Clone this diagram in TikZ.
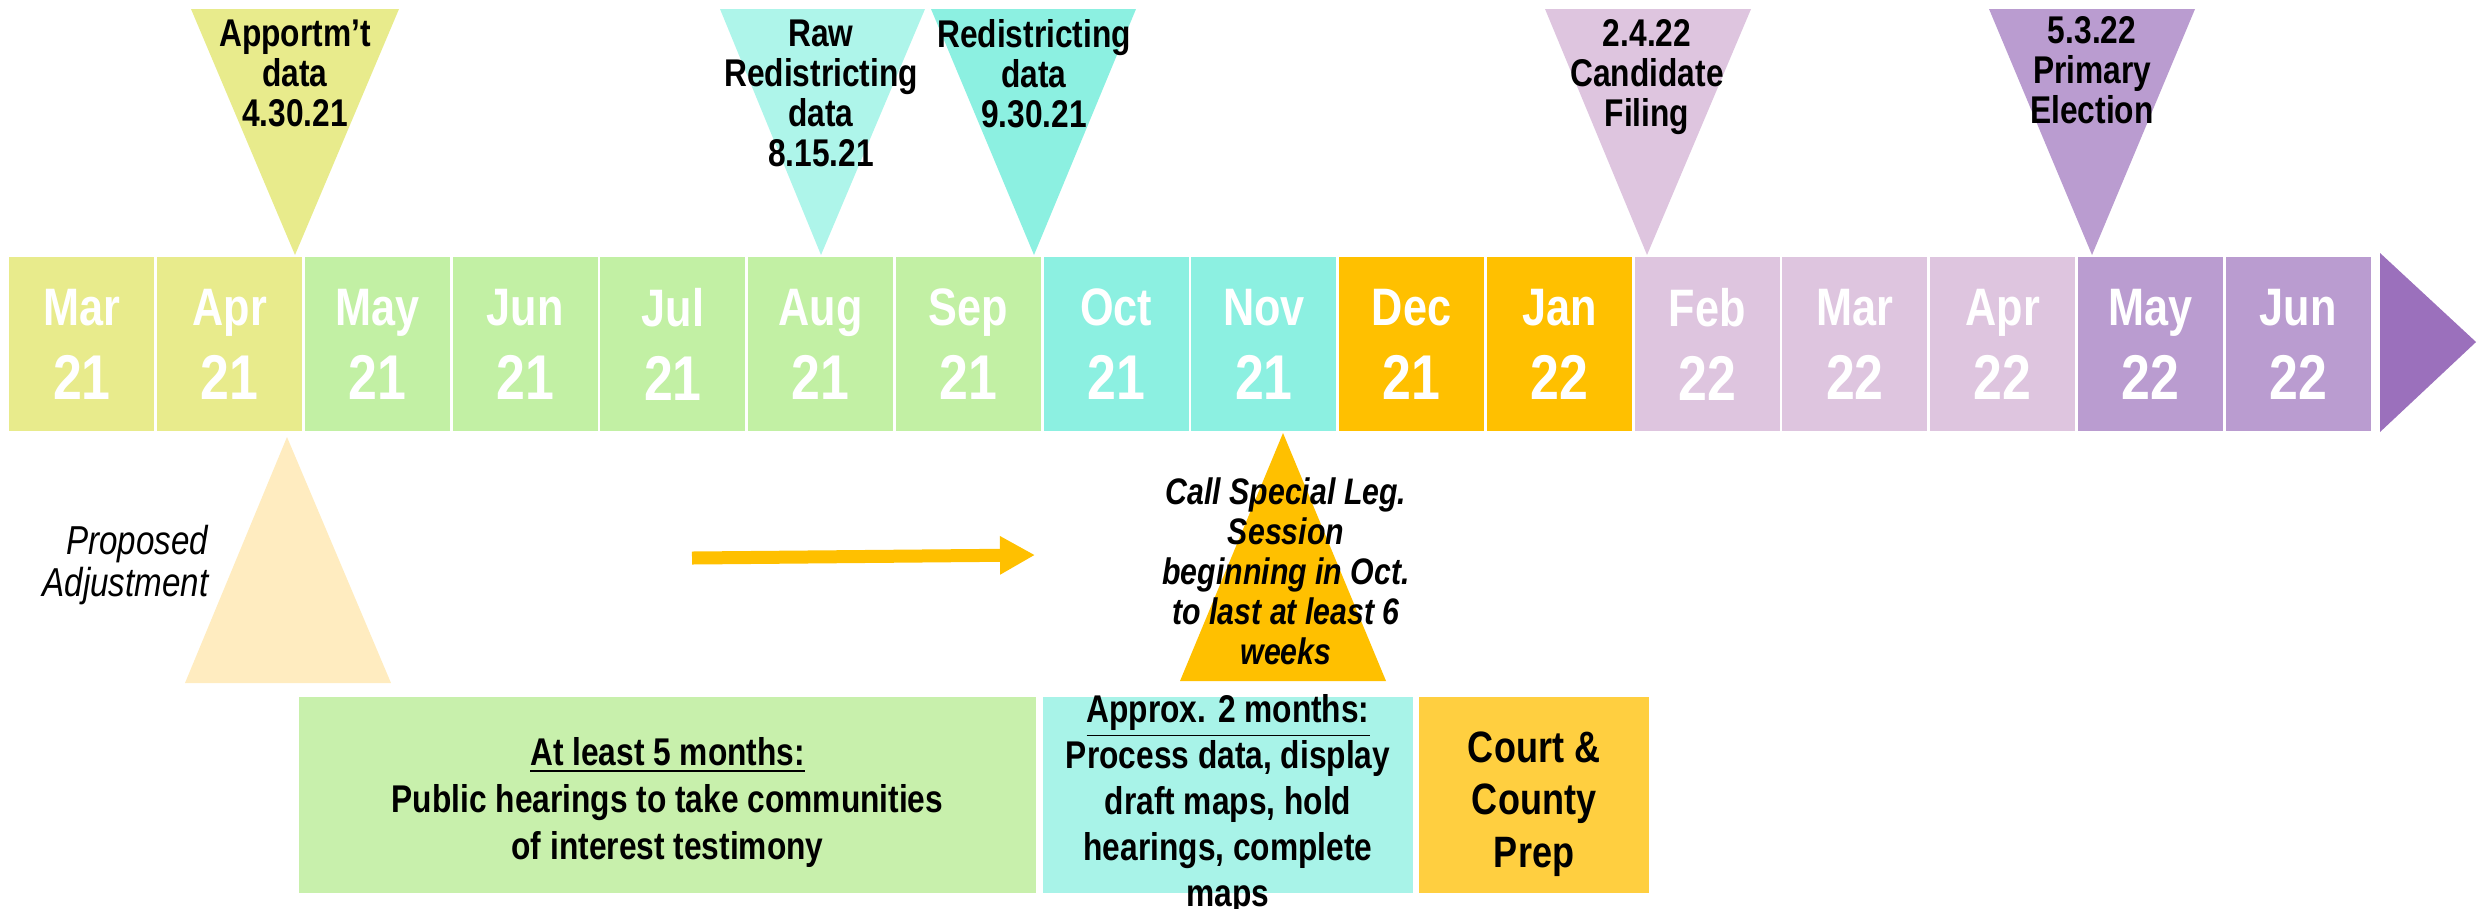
\documentclass[tikz,border=0pt]{standalone}
\usepackage{fontspec}
\setmainfont{Liberation Sans}[FakeStretch=0.82]
\usepackage{tikz}
\usepackage{color}
\usetikzlibrary{arrows.meta}
\definecolor{yellowA}{RGB}{232,235,140}
\definecolor{greenA}{RGB}{194,240,164}
\definecolor{greenB}{RGB}{200,240,172}
\definecolor{aquaA}{RGB}{140,240,225}
\definecolor{aquaB}{RGB}{174,245,234}
\definecolor{aquaC}{RGB}{168,243,232}
\definecolor{amber}{RGB}{255,192,0}
\definecolor{gold}{RGB}{255,207,64}
\definecolor{peach}{RGB}{255,236,192}
\definecolor{lilacA}{RGB}{222,197,223}
\definecolor{purpleA}{RGB}{186,156,208}
\definecolor{purpleB}{RGB}{155,112,188}

\begin{document}
\begin{tikzpicture}[month/.style = {fill, minimum width=1.45cm, minimum height=1.74cm, inner sep=0pt, align=center, text=white, font=\bfseries\fontsize{18}{21}\selectfont}, flag/.style = {anchor=north, align=center, inner sep=0pt, font=\bfseries\fontsize{11}{11.4}\selectfont}, period/.style = {minimum height=1.96cm, inner sep=0pt}, note/.style = {anchor=north, align=center, inner sep=0pt, font=\bfseries\fontsize{11}{13.4}\selectfont}]
\useasboundingbox (0,0) rectangle (24.78,9.08);
\fill[yellowA] (1.91,8.99) -- (3.99,8.99) -- (2.95,6.53) -- cycle; \fill[aquaB] (7.20,8.99) -- (9.25,8.99) -- (8.21,6.53) -- cycle; \fill[aquaA] (9.31,8.99) -- (11.36,8.99) -- (10.34,6.53) -- cycle;
\fill[lilacA] (15.45,8.99) -- (17.51,8.99) -- (16.47,6.53) -- cycle; \fill[purpleA] (19.89,8.99) -- (21.95,8.99) -- (20.92,6.53) -- cycle;
\fill[peach] (1.85,2.25) -- (3.91,2.25) -- (2.87,4.71) -- cycle; \fill[amber] (11.80,2.27) -- (13.86,2.27) -- (12.83,4.75) -- cycle;
\node[flag] (17) at (2.95,8.89) {Apportm't\\data\\4.30.21}; \node[flag] (18) at (8.21,8.89) {Raw\\Redistricting\\data\\8.15.21}; \node[flag] (19) at (10.34,8.89) {Redistricting\\data\\9.30.21};
\node[flag] (20) at (16.47,8.89) {2.4.22\\Candidate\\Filing}; \node[flag] (21) at (20.92,8.92) {5.3.22\\Primary\\Election};
\node[month, fill=yellowA] (1) at (0.819,5.64) {{\fontsize{15}{15}\selectfont Mar}\\21}; \node[month, fill=yellowA] (2) at (2.296,5.64) {{\fontsize{15}{15}\selectfont Apr}\\21};
\node[month, fill=greenA] (3) at (3.774,5.64) {{\fontsize{15}{15}\selectfont May}\\21}; \node[month, fill=greenA] (4) at (5.251,5.64) {{\fontsize{15}{15}\selectfont Jun}\\21}; \node[month, fill=greenA] (5) at (6.729,5.64) {{\fontsize{15}{15}\selectfont Jul}\\21};
\node[month, fill=greenA] (6) at (8.206,5.64) {{\fontsize{15}{15}\selectfont Aug}\\21}; \node[month, fill=greenA] (7) at (9.684,5.64) {{\fontsize{15}{15}\selectfont Sep}\\21};
\node[month, fill=aquaA] (8) at (11.161,5.64) {{\fontsize{15}{15}\selectfont Oct}\\21}; \node[month, fill=aquaA] (9) at (12.639,5.64) {{\fontsize{15}{15}\selectfont Nov}\\21};
\node[month, fill=amber] (10) at (14.116,5.64) {{\fontsize{15}{15}\selectfont Dec}\\21}; \node[month, fill=amber] (11) at (15.594,5.64) {{\fontsize{15}{15}\selectfont Jan}\\22};
\node[month, fill=lilacA] (12) at (17.071,5.64) {{\fontsize{15}{15}\selectfont Feb}\\22}; \node[month, fill=lilacA] (13) at (18.549,5.64) {{\fontsize{15}{15}\selectfont Mar}\\22}; \node[month, fill=lilacA] (14) at (20.026,5.64) {{\fontsize{15}{15}\selectfont Apr}\\22};
\node[month, fill=purpleA] (15) at (21.504,5.64) {{\fontsize{15}{15}\selectfont May}\\22}; \node[month, fill=purpleA] (16) at (22.981,5.64) {{\fontsize{15}{15}\selectfont Jun}\\22};
\fill[purpleB] (23.80,6.55) -- (24.76,5.66) -- (23.80,4.76) -- cycle;
\node[anchor=north east, align=right, inner sep=0pt, font=\itshape\fontsize{11.5}{12}\selectfont] (22) at (2.09,3.84) {Proposed\\Adjustment};
\node[anchor=north, align=center, inner sep=0pt, font=\bfseries\itshape\fontsize{10.5}{11.4}\selectfont] (23) at (12.86,4.31) {Call Special Leg.\\Session\\beginning in Oct.\\to last at least 6\\weeks};
\coordinate (a) at (6.92,3.50); \coordinate (b) at (10.35,3.53);
\draw[-{Triangle[length=0.35cm,width=0.36cm]}, line width=0.13cm, amber] (a) -- (b);
\node[period, fill=greenB, minimum width=7.37cm] (24) at (6.675,1.13) {}; \node[period, fill=aquaC, minimum width=3.70cm] (25) at (12.28,1.13) {}; \node[period, fill=gold, minimum width=2.30cm] (26) at (15.34,1.13) {};
\node[note] (27) at (6.675,1.71) {\underline{At least 5 months:}\\Public hearings to take communities\\of interest testimony};
\node[note, font=\bfseries\fontsize{11}{13.1}\selectfont] (28) at (12.28,2.14) {\underline{Approx. 2 months:}\\Process data, display\\draft maps, hold\\hearings, complete\\maps};
\node[note, font=\bfseries\fontsize{12.5}{14.9}\selectfont] (29) at (15.34,1.77) {Court \&\\County\\Prep};
\end{tikzpicture}
\end{document}
